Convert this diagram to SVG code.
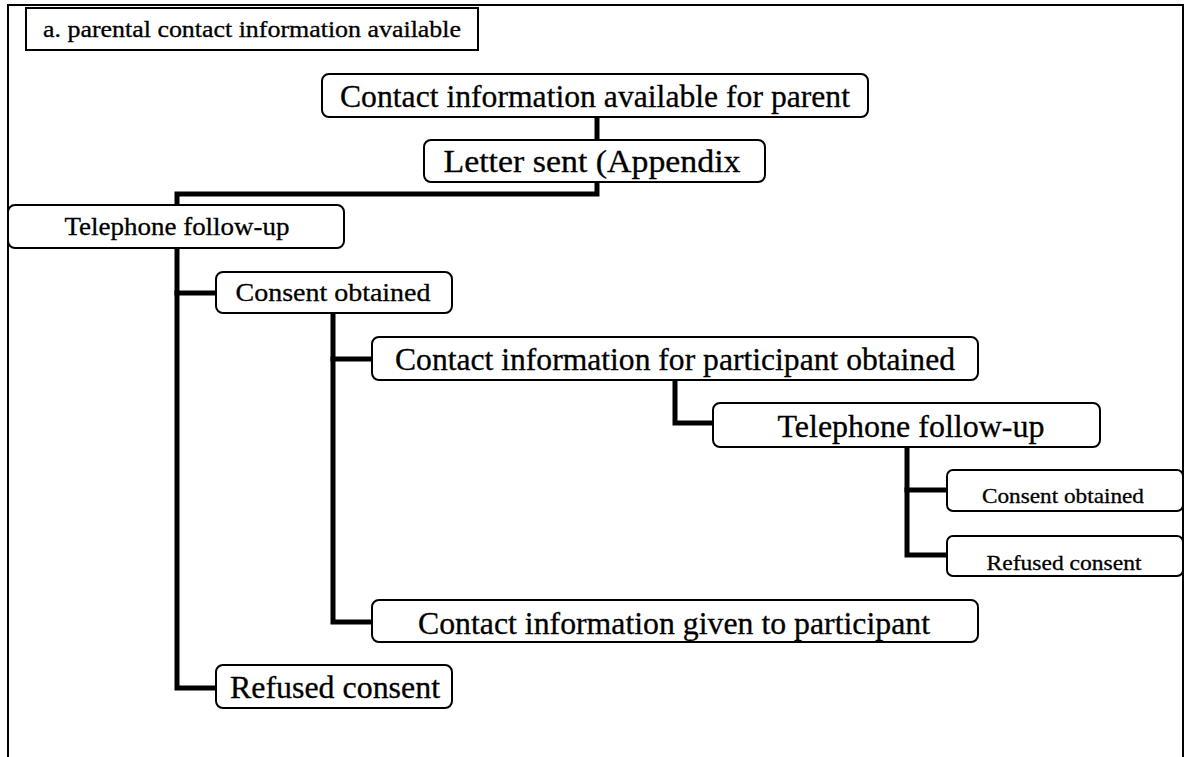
<svg xmlns="http://www.w3.org/2000/svg" width="1191" height="757" viewBox="0 0 1191 757">
<style>
.frame{fill:none;stroke:#000;stroke-width:2}
.box{fill:#fff;stroke:#000;stroke-width:2}
.conn{fill:none;stroke:#000;stroke-width:5;stroke-linejoin:miter;stroke-linecap:square}
text{font-family:"Liberation Serif","Times New Roman",serif;fill:#000;stroke:#000;stroke-width:0.3;text-anchor:middle}
.big{font-size:32px}
.mid{font-size:26px}
.sml{font-size:21px}
.ttl{font-size:23px}
</style>
<rect width="1191" height="757" fill="#fff"/>
<path class="frame" d="M8,757 V5 H1183 V757"/>
<g id="title">
<rect x="26" y="8" width="452" height="42" fill="#fff" stroke="#000" stroke-width="2"/>
<text x="252" y="37" class="ttl" textLength="418" lengthAdjust="spacingAndGlyphs">a. parental contact information available</text>
</g>
<g id="connectors">
<path class="conn" d="M597,117 V140"/>
<path class="conn" d="M597,182 V194 H177 V205"/>
<path class="conn" d="M177,248 V688 H216"/>
<path class="conn" d="M177,293 H216"/>
<path class="conn" d="M333,313 V622 H372"/>
<path class="conn" d="M333,359 H372"/>
<path class="conn" d="M675,380 V423 H713"/>
<path class="conn" d="M907,447 V555 H947"/>
<path class="conn" d="M907,490 H947"/>
</g>
<g id="n1">
<rect class="box" x="322" y="74" width="546" height="43" rx="7"/>
<text x="595" y="107" class="big" textLength="510" lengthAdjust="spacingAndGlyphs">Contact information available for parent</text>
</g>
<g id="n2">
<rect class="box" x="424" y="140" width="341" height="42" rx="7"/>
<text x="592" y="172" class="big" textLength="297" lengthAdjust="spacingAndGlyphs">Letter sent (Appendix</text>
</g>
<g id="n3">
<rect class="box" x="8" y="205" width="336" height="43" rx="7"/>
<text x="177" y="235" class="mid" textLength="225" lengthAdjust="spacingAndGlyphs">Telephone follow-up</text>
</g>
<g id="n4">
<rect class="box" x="216" y="272" width="236" height="41" rx="7"/>
<text x="333" y="301" class="mid" textLength="195" lengthAdjust="spacingAndGlyphs">Consent obtained</text>
</g>
<g id="n5">
<rect class="box" x="372" y="337" width="606" height="43" rx="7"/>
<text x="675" y="370" class="big" textLength="560" lengthAdjust="spacingAndGlyphs">Contact information for participant obtained</text>
</g>
<g id="n6">
<rect class="box" x="713" y="403" width="387" height="44" rx="7"/>
<text x="911" y="437" class="big" textLength="267" lengthAdjust="spacingAndGlyphs">Telephone follow-up</text>
</g>
<g id="n7">
<rect class="box" x="947" y="470" width="236" height="41" rx="6"/>
<text x="1063" y="503" class="sml" textLength="162" lengthAdjust="spacingAndGlyphs">Consent obtained</text>
</g>
<g id="n8">
<rect class="box" x="947" y="536" width="236" height="40" rx="6"/>
<text x="1064" y="570" class="sml" textLength="155" lengthAdjust="spacingAndGlyphs">Refused consent</text>
</g>
<g id="n9">
<rect class="box" x="372" y="600" width="606" height="42" rx="7"/>
<text x="674" y="634" class="big" textLength="512" lengthAdjust="spacingAndGlyphs">Contact information given to participant</text>
</g>
<g id="n10">
<rect class="box" x="216" y="665" width="236" height="43" rx="7"/>
<text x="335" y="698" class="big" textLength="210" lengthAdjust="spacingAndGlyphs">Refused consent</text>
</g>
</svg>
